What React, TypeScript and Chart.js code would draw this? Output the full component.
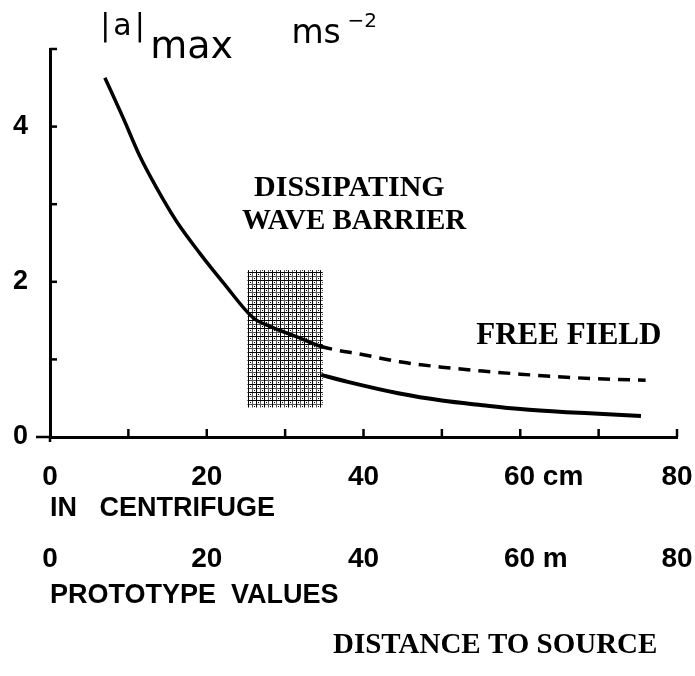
import React, { useEffect, useRef } from 'react';
import { Chart, registerables } from 'chart.js';

Chart.register(...registerables);

// ---- data ----
const freeFieldX = [7, 9.3, 11.5, 13.6, 16.2, 19.1, 22.1, 26, 28, 31.5, 34.5, 40, 44.6, 50, 55.2, 60, 65.9, 70, 76];
const freeFieldY = [4.63, 4.12, 3.61, 3.21, 2.77, 2.37, 1.99, 1.53, 1.43, 1.29, 1.17, 1.06, 0.97, 0.9, 0.85, 0.81, 0.77, 0.75, 0.73];
const barrierX = [34.6, 38, 44.6, 50, 55.2, 60, 65.9, 70, 75.4];
const barrierY = [0.8, 0.71, 0.56, 0.47, 0.41, 0.36, 0.32, 0.3, 0.27];
const barrierZoneX = [25.2, 34.8];
const barrierZoneY = [0.38, 2.15];
const dashStartX = 34.5;

const xTickValues = [0, 20, 40, 60, 80];
const centrifugeTickLabels = ['0', '20', '40', '      60 cm', '80'];
const prototypeTickLabels = ['0', '20', '40', '    60 m', '80'];
const yTickValues = [0, 2, 4];
const yTickLabels = ['0', '2', '4'];

const SANS_BOLD = "'Liberation Sans Narrow', 'Liberation Sans', Arial, sans-serif";
const SANS = "'DejaVu Sans', 'Open Sans', sans-serif";
const SERIF = "'Liberation Serif', 'DejaVu Serif', serif";

function makePattern(ctx: CanvasRenderingContext2D) {
  const c = document.createElement('canvas');
  c.width = 8;
  c.height = 8;
  const g = c.getContext('2d')!;
  g.fillStyle = '#ffffff';
  g.fillRect(0, 0, 8, 8);
  g.fillStyle = '#555555';
  g.fillRect(0, 4, 8, 1);
  g.fillRect(4, 0, 1, 8);
  g.fillStyle = '#000000';
  g.fillRect(0, 0, 8, 1);
  g.fillRect(0, 0, 1, 8);
  g.fillRect(2, 2, 1, 1);
  g.fillRect(6, 6, 1, 1);
  return ctx.createPattern(c, 'repeat');
}

const decorPlugin = {
  id: 'decor',
  beforeDatasetsDraw(chart: any) {
    const { ctx, scales } = chart;
    const x = scales.x;
    const y = scales.y;
    const px0 = x.getPixelForValue(barrierZoneX[0]);
    const px1 = x.getPixelForValue(barrierZoneX[1]);
    const py0 = y.getPixelForValue(barrierZoneY[1]);
    const py1 = y.getPixelForValue(barrierZoneY[0]);
    ctx.save();
    const pat = makePattern(ctx);
    if (pat) ctx.fillStyle = pat;
    ctx.fillRect(px0, py0, px1 - px0, py1 - py0);
    ctx.restore();
  },
  afterDraw(chart: any) {
    const { ctx, scales, chartArea } = chart;
    const x = scales.x;
    const y = scales.y;
    ctx.save();
    ctx.strokeStyle = '#000';
    ctx.lineWidth = 2.5;
    // small axis overhangs at the origin
    ctx.beginPath();
    ctx.moveTo(chartArea.left - 14, chartArea.bottom);
    ctx.lineTo(chartArea.left, chartArea.bottom);
    ctx.moveTo(chartArea.left, chartArea.bottom);
    ctx.lineTo(chartArea.left, chartArea.bottom + 5);
    ctx.stroke();
    // inward tick marks on y axis
    y.ticks.forEach((t: any) => {
      if (t.value === 0) return;
      const py = y.getPixelForValue(t.value);
      ctx.beginPath();
      ctx.moveTo(chartArea.left, py);
      ctx.lineTo(chartArea.left + 7, py);
      ctx.stroke();
    });
    // inward tick marks on x axis
    x.ticks.forEach((t: any) => {
      if (t.value === 0) return;
      const px = x.getPixelForValue(t.value);
      ctx.beginPath();
      ctx.moveTo(px, chartArea.bottom);
      ctx.lineTo(px, chartArea.bottom - 8);
      ctx.stroke();
    });

    ctx.fillStyle = '#000';
    ctx.textBaseline = 'alphabetic';
    ctx.textAlign = 'left';
    // y axis title |a|max ms^-2
    const top = chartArea.top;
    const tx = x.getPixelForValue(6.4);
    ctx.font = `30px ${SANS}`;
    (ctx as any).letterSpacing = '3px';
    ctx.fillText('|a|', tx, top - 14);
    (ctx as any).letterSpacing = '0px';
    ctx.font = `38px ${SANS}`;
    ctx.fillText('max', tx + 50, top + 9);
    ctx.font = `33px ${SANS}`;
    const msX = x.getPixelForValue(30.8);
    ctx.fillText('ms', msX, top - 6);
    ctx.font = `20px ${SANS}`;
    ctx.fillText('\u22122', msX + 56, top - 22);

    // annotations
    ctx.textAlign = 'center';
    ctx.textBaseline = 'middle';
    ctx.font = `bold 30px ${SERIF}`;
    ctx.fillText('DISSIPATING', x.getPixelForValue(38.2), y.getPixelForValue(3.2));
    ctx.font = `bold 29px ${SERIF}`;
    ctx.fillText('WAVE BARRIER', x.getPixelForValue(38.8), y.getPixelForValue(2.78));
    ctx.font = `bold 31px ${SERIF}`;
    ctx.fillText('FREE FIELD', x.getPixelForValue(66.2), y.getPixelForValue(1.3));
    ctx.font = `bold 29px ${SERIF}`;
    ctx.fillText('DISTANCE TO SOURCE', x.getPixelForValue(56.8), chart.height - 30);
    ctx.restore();
  },
};

function tickLabel(values: number[], labels: string[]) {
  return (v: any) => {
    const i = values.indexOf(Number(v));
    return i >= 0 ? labels[i] : '';
  };
}

function fixHorizontal(height: number) {
  return (s: any) => {
    s.height = height;
    s.paddingLeft = 0;
    s.paddingRight = 0;
  };
}

export default function App() {
  const ref = useRef<HTMLCanvasElement>(null);
  useEffect(() => {
    document.body.style.margin = '0';
    const canvas = ref.current;
    if (!canvas) return;
    const tickFont = { family: SANS_BOLD, size: 28, weight: 'bold' as const };
    const titleFont = { family: SANS_BOLD, size: 27, weight: 'bold' as const };
    const chart = new Chart(canvas, {
      type: 'line',
      data: {
        datasets: [
          {
            label: 'Free field',
            data: freeFieldX.map((v, i) => ({ x: v, y: freeFieldY[i] })),
            borderColor: '#000',
            borderWidth: 3.5,
            pointRadius: 0,
            cubicInterpolationMode: 'monotone',
            segment: {
              borderDash: (c: any) => (c.p0.parsed.x >= dashStartX ? [12, 8] : undefined),
            },
          },
          {
            label: 'Dissipating wave barrier',
            data: barrierX.map((v, i) => ({ x: v, y: barrierY[i] })),
            borderColor: '#000',
            borderWidth: 4,
            pointRadius: 0,
            cubicInterpolationMode: 'monotone',
          },
        ],
      },
      options: {
        animation: false,
        responsive: false,
        devicePixelRatio: 1,
        layout: { padding: { top: 49, right: 18, bottom: 63, left: 0 } },
        plugins: { legend: { display: false }, tooltip: { enabled: false }, title: { display: false } },
        scales: {
          x: {
            type: 'linear',
            position: 'bottom',
            min: 0,
            max: 80,
            weight: 0,
            grid: { display: false, drawTicks: false },
            border: { display: true, color: '#000', width: 3 },
            ticks: {
              stepSize: 10,
              autoSkip: false,
              maxRotation: 0,
              padding: 23,
              color: '#000',
              font: tickFont,
              callback: tickLabel(xTickValues, centrifugeTickLabels),
            },
            title: {
              display: true,
              text: 'IN   CENTRIFUGE',
              align: 'start',
              color: '#000',
              font: titleFont,
              padding: { top: 0, bottom: 0 },
            },
            afterFit: fixHorizontal(88),
          },
          x2: {
            type: 'linear',
            position: 'bottom',
            min: 0,
            max: 80,
            weight: 1,
            grid: { display: false, drawTicks: false },
            border: { display: false },
            ticks: {
              stepSize: 10,
              autoSkip: false,
              maxRotation: 0,
              padding: 17,
              color: '#000',
              font: tickFont,
              callback: tickLabel(xTickValues, prototypeTickLabels),
            },
            title: {
              display: true,
              text: 'PROTOTYPE  VALUES',
              align: 'start',
              color: '#000',
              font: titleFont,
              padding: { top: 0, bottom: 1 },
            },
            afterFit: fixHorizontal(88),
          },
          y: {
            type: 'linear',
            min: 0,
            max: 5,
            grid: { display: false, drawTicks: false },
            border: { display: true, color: '#000', width: 3 },
            ticks: {
              stepSize: 1,
              padding: 22,
              color: '#000',
              font: { family: "'Liberation Sans', Arial, sans-serif", size: 27, weight: 'bold' },
              callback: tickLabel(yTickValues, yTickLabels),
            },
            afterFit: (s: any) => {
              s.width = 50;
              s.paddingTop = 0;
              s.paddingBottom = 0;
            },
          },
        },
      },
      plugins: [decorPlugin],
    } as any);
    return () => chart.destroy();
  }, []);
  return (
    <div style={{ width: 695, height: 676, background: '#fff' }}>
      <canvas ref={ref} width={695} height={676} style={{ display: 'block' }} />
    </div>
  );
}
